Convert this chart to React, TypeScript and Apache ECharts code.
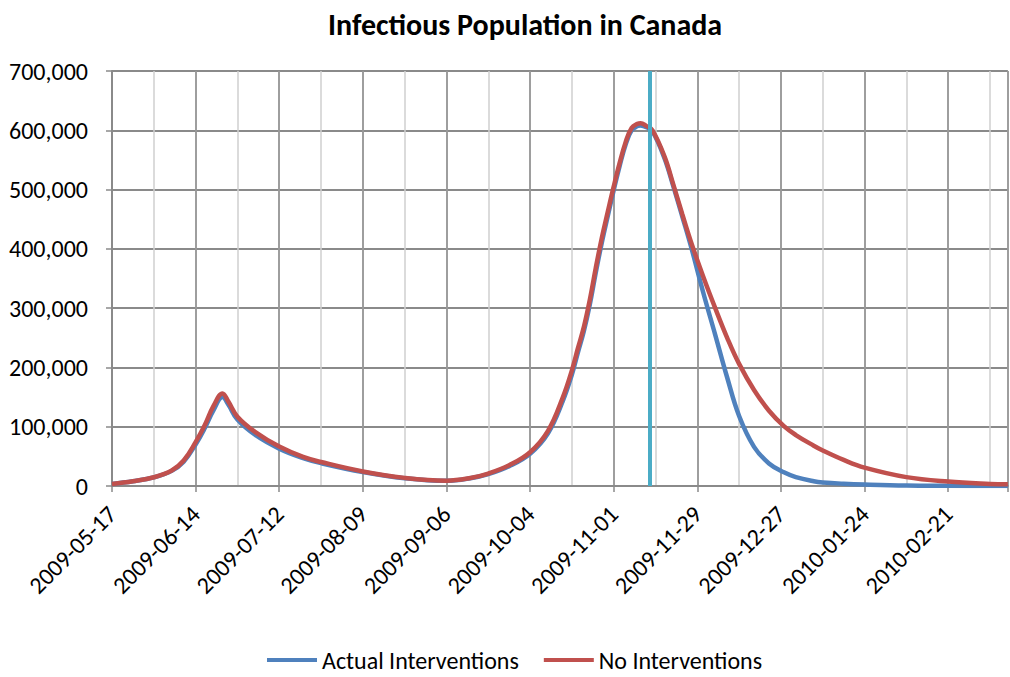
import React, { useEffect, useRef } from "react";
import * as echarts from "echarts";

// Days counted from 2009-05-17
const days = [
  0, 7, 14, 20, 24, 28, 31, 34, 37, 39, 42, 48, 56, 64, 70, 84, 98, 112, 120,
  126, 133, 140, 146, 151, 154, 156, 158, 160, 162, 164, 166, 168, 170, 172,
  174, 176, 177, 179, 181, 185, 188, 191, 194, 198, 202, 206, 210, 215, 220,
  225, 229, 235, 238, 245, 252, 266, 280, 294, 300,
];

const actualInterventions = [
  3500, 8000, 14500, 25500, 41000, 70000, 97000, 128000, 150000, 137000,
  112000, 86000, 63000, 47000, 38500, 23500, 13000, 8700, 13000, 20000, 33500,
  54500, 89000, 144000, 188000, 225000, 261000, 306000, 360000, 410000,
  455000, 499000, 540000, 576000, 600000, 607000, 608000, 605000, 598000,
  553000, 505000, 454000, 402000, 326000, 255000, 183000, 118000, 66000,
  38000, 23000, 15000, 8000, 6000, 3800, 2400, 700, 300, 100, 100,
];

const noInterventions = [
  3500, 8000, 14700, 26000, 43000, 74000, 102000, 135000, 156000, 142000,
  117000, 91000, 66500, 49000, 40500, 24500, 13700, 9000, 13500, 21000, 35000,
  57000, 93000, 150000, 195000, 232000, 268000, 314000, 368000, 418000,
  462000, 505000, 545000, 580000, 604000, 611000, 612000, 607000, 600000,
  556000, 508000, 458000, 410000, 353000, 300000, 250000, 206000, 162000,
  127000, 101000, 86000, 68000, 60000, 44000, 31000, 15000, 7400, 3500, 2800,
];

const tickLabels = [
  "2009-05-17",
  "2009-06-14",
  "2009-07-12",
  "2009-08-09",
  "2009-09-06",
  "2009-10-04",
  "2009-11-01",
  "2009-11-29",
  "2009-12-27",
  "2010-01-24",
  "2010-02-21",
];

// 2009-11-13
const interventionDay = 180;

const FONT = "Carlito, Lato, 'Noto Sans', sans-serif";
const MAJOR = "#8a8a8a";
const MINOR = "#cfcfcf";

export default function App() {
  const ref = useRef<HTMLDivElement>(null);

  useEffect(() => {
    if (!ref.current) return;
    const chart = echarts.init(ref.current, null, { renderer: "svg" });
    const pairs = (vals: number[]) => days.map((d, i) => [d, vals[i]]);

    chart.setOption({
      animation: false,
      backgroundColor: "#ffffff",
      textStyle: { fontFamily: FONT },
      title: {
        text: "Infectious Population in Canada",
        left: 323,
        top: 4,
        textStyle: {
          fontFamily: FONT,
          fontWeight: "bold",
          fontSize: 30,
          color: "#000",
        },
      },
      legend: {
        data: ["Actual Interventions", "No Interventions"],
        bottom: 0,
        left: 262,
        icon: "rect",
        itemWidth: 50,
        itemHeight: 4,
        itemGap: 25,
        textStyle: { fontFamily: FONT, fontSize: 24, color: "#000" },
      },
      grid: { left: 112, right: 0, top: 71, bottom: 191, containLabel: false },
      xAxis: [
        {
          // minor two-week grid
          type: "value",
          min: 0,
          max: 300,
          interval: 14,
          position: "bottom",
          axisLine: { show: false },
          axisTick: { show: false },
          axisLabel: { show: false },
          splitLine: { show: true, lineStyle: { color: MINOR, width: 1.5 } },
        },
        {
          type: "value",
          min: 0,
          max: 300,
          interval: 28,
          position: "bottom",
          axisLine: { show: true, lineStyle: { color: MAJOR, width: 2 } },
          axisTick: {
            show: true,
            length: 6,
            lineStyle: { color: MAJOR, width: 1.5 },
          },
          axisLabel: {
            rotate: 45,
            margin: 24,
            fontFamily: FONT,
            fontSize: 24,
            color: "#000",
            formatter: (v: number) =>
              v % 28 === 0 && tickLabels[v / 28] ? tickLabels[v / 28] : "",
          },
          splitLine: { show: true, lineStyle: { color: MAJOR, width: 1.5 } },
        },
      ],
      yAxis: {
        type: "value",
        min: 0,
        max: 700000,
        interval: 100000,
        axisLine: { show: true, lineStyle: { color: MAJOR, width: 2 } },
        axisTick: {
          show: true,
          length: 6,
          lineStyle: { color: MAJOR, width: 1.5 },
        },
        axisLabel: {
          margin: 24,
          fontFamily: FONT,
          fontSize: 24,
          color: "#000",
          formatter: (v: number) => v.toLocaleString("en-US"),
        },
        splitLine: { show: true, lineStyle: { color: MAJOR, width: 2 } },
      },
      series: [
        {
          name: "Actual Interventions",
          type: "line",
          xAxisIndex: 1,
          data: pairs(actualInterventions),
          smooth: 0.4,
          showSymbol: false,
          symbol: "none",
          color: "#4F81BD",
          lineStyle: { color: "#4F81BD", width: 4.5 },
          z: 3,
        },
        {
          name: "No Interventions",
          type: "line",
          xAxisIndex: 1,
          data: pairs(noInterventions),
          smooth: 0.4,
          showSymbol: false,
          symbol: "none",
          color: "#C0504D",
          lineStyle: { color: "#C0504D", width: 4.5 },
          z: 4,
        },
        {
          name: "intervention",
          type: "line",
          xAxisIndex: 1,
          data: [],
          z: 6,
          markLine: {
            silent: true,
            symbol: ["none", "none"],
            label: { show: false },
            lineStyle: { color: "#4BACC6", width: 4, type: "solid" },
            data: [{ xAxis: interventionDay }],
          },
        },
      ],
    });

    return () => chart.dispose();
  }, []);

  return (
    <div
      ref={ref}
      style={{
        position: "fixed",
        left: 0,
        top: 0,
        width: 1010,
        height: 677,
        background: "#fff",
      }}
    />
  );
}
